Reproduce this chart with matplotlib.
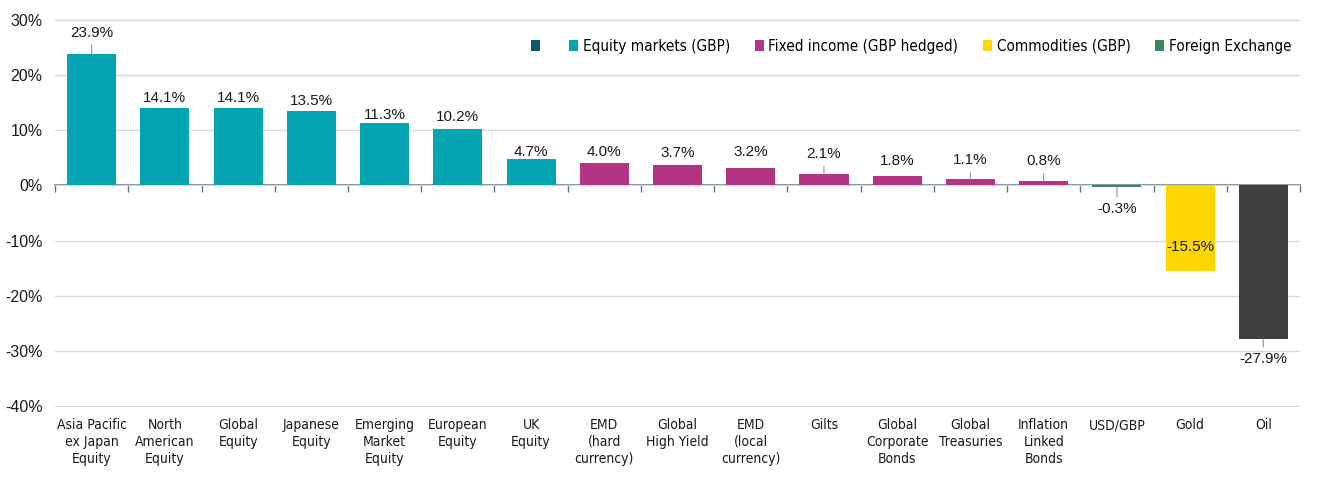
import numpy as np
import matplotlib.pyplot as plt
from matplotlib.patches import Patch

# Dados do gráfico
categories = ["Asia Pacific\nex Japan\nEquity", "North\nAmerican\nEquity", "Global\nEquity",
              "Japanese\nEquity", "Emerging\nMarket\nEquity", "European\nEquity", "UK\nEquity",
              "EMD\n(hard\ncurrency)", "Global\nHigh Yield", "EMD\n(local\ncurrency)", "Gilts",
              "Global\nCorporate\nBonds", "Global\nTreasuries", "Inflation\nLinked\nBonds",
              "USD/GBP", "Gold", "Oil"]
values = [23.9, 14.1, 14.1, 13.5, 11.3, 10.2, 4.7, 4.0, 3.7, 3.2, 2.1, 1.8, 1.1, 0.8, -0.3, -15.5, -27.9]
groups = ["eq"] * 7 + ["fi"] * 7 + ["fx", "com", "oil"]
legend_labels = ["", "Equity markets (GBP)", "Fixed income (GBP hedged)", "Commodities (GBP)", "Foreign Exchange"]

colors = {"eq": "#05A4B3", "fi": "#B33483", "com": "#FFD700", "fx": "#3D8660", "oil": "#404040"}
legend_colors = ["#0B5A6A", colors["eq"], colors["fi"], colors["com"], colors["fx"]]

# Layout dos rótulos (px entre fim da barra e centro do rótulo; positivo = para cima)
label_gap_px = [21, 10, 10, 10, 8, 12, 7, 11, 12, 16, 20, 15, 19, 20, -22, 24, -20]
leader = [True, False, False, False, False, False, False, False, False, False,
          True, False, True, True, True, False, True]

plt.rcParams['font.family'] = ['Liberation Sans', 'DejaVu Sans']
narrow = dict(family='DejaVu Sans', stretch='condensed')

fig = plt.figure(figsize=(13.23, 4.94), dpi=100)
ax = fig.add_axes([0.0416, 0.176, 0.9410, 0.7855])

x = np.arange(len(values))
ax.bar(x, values, width=0.67, color=[colors[g] for g in groups], zorder=3)

ax.set_xlim(-0.5, len(values) - 0.5)
ax.set_ylim(-40.15, 30.15)
ax.set_yticks(np.arange(-40, 31, 10))
ax.set_yticklabels([f"{t}%" for t in range(-40, 31, 10)], fontsize=11.5, color="#1a1a1a")
ax.grid(axis='y', color="#D9D9D9", lw=1, zorder=0)
for s in ax.spines.values():
    s.set_visible(False)
ax.tick_params(axis='y', length=0, pad=9)

ax.set_xticks(x)
ax.set_xticklabels(categories, fontsize=10, color="#1a1a1a", linespacing=1.25, **narrow)
ax.tick_params(axis='x', length=0, pad=8)

# Eixo do zero com marcas entre categorias (para baixo)
y0 = (0 - ax.get_ylim()[0]) / (ax.get_ylim()[1] - ax.get_ylim()[0])
sec = ax.secondary_xaxis(y0)
sec.set_xticks(np.arange(-0.5, len(values), 1))
sec.set_xticklabels([])
sec.tick_params(axis='x', length=5, width=1, color="#5F7381", direction='in')
for s in sec.spines.values():
    s.set_color("#5F7381")
    s.set_linewidth(1.2)

for i, v in enumerate(values):
    off = label_gap_px[i] * 0.72
    props = dict(arrowstyle='-', color="#A0A0A0", lw=0.9, shrinkA=2, shrinkB=0) if leader[i] else None
    ax.annotate(f"{v:.1f}%", xy=(i, v), xytext=(0, off), textcoords='offset points',
                ha='center', va='center', fontsize=11, color="#1a1a1a",
                arrowprops=props, zorder=4)

handles = [Patch(facecolor=c, edgecolor='none') for c in legend_colors]
ax.legend(handles, legend_labels, ncol=5, loc='center right', bbox_to_anchor=(1.004, 0.93),
          frameon=False, handlelength=0.6, handleheight=0.7, handletextpad=0.3,
          columnspacing=1.6, prop=dict(size=11, **narrow))

fig.savefig("out.png", dpi=100)
